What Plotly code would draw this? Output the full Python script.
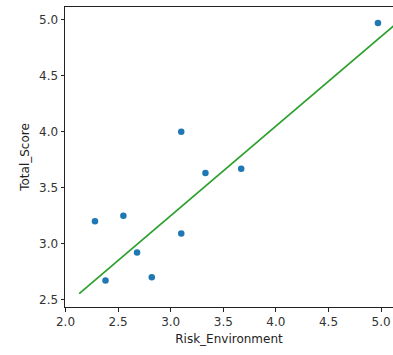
import plotly.graph_objects as go

risk_environment = [2.28, 2.55, 2.68, 2.38, 2.82, 3.10, 3.10, 3.33, 3.67, 4.97]
total_score = [3.20, 3.25, 2.92, 2.67, 2.70, 3.09, 4.00, 3.63, 3.67, 4.97]

fit_x = [2.13, 5.20]
fit_y = [2.553, 5.01]

x_ticks = [2.0, 2.5, 3.0, 3.5, 4.0, 4.5, 5.0]
y_ticks = [2.5, 3.0, 3.5, 4.0, 4.5, 5.0]

fig = go.Figure()
fig.add_trace(go.Scatter(
    x=risk_environment, y=total_score, mode="markers",
    marker=dict(color="#1f77b4", size=6.5, line=dict(width=0)),
    showlegend=False, hoverinfo="skip"))
fig.add_trace(go.Scatter(
    x=fit_x, y=fit_y, mode="lines",
    line=dict(color="#2ca02c", width=1.7),
    showlegend=False, hoverinfo="skip"))

axis_font = dict(family="DejaVu Sans", size=12, color="#333333")
title_font = dict(family="DejaVu Sans", size=12, color="#222222")
fig.update_layout(
    width=393, height=355,
    margin=dict(l=65, r=0, t=7, b=48),
    paper_bgcolor="white", plot_bgcolor="white",
    font=dict(family="DejaVu Sans", size=12, color="#222222"),
    xaxis=dict(
        range=[1.995, 5.113], tickvals=x_ticks, ticktext=[f"{v:.1f}" for v in x_ticks],
        showgrid=False, zeroline=False, showline=True, mirror=True, automargin=False,
        linecolor="#222222", linewidth=1, ticks="outside", ticklen=3.5,
        tickcolor="#222222", tickfont=axis_font,
        title=dict(text="Risk_Environment", font=title_font, standoff=6)),
    yaxis=dict(
        range=[2.434, 5.114], tickvals=y_ticks, ticktext=[f"{v:.1f}" for v in y_ticks],
        showgrid=False, zeroline=False, showline=True, mirror=False, automargin=False,
        linecolor="#222222", linewidth=1, ticks="outside", ticklen=3.5,
        tickcolor="#222222", tickfont=axis_font,
        title=dict(text="Total_Score", font=title_font, standoff=6)),
)

fig.write_html(
    "out.html",
    config={"displayModeBar": False, "staticPlot": True},
    post_script="document.body.style.margin='0';document.documentElement.style.overflow='hidden';",
)
